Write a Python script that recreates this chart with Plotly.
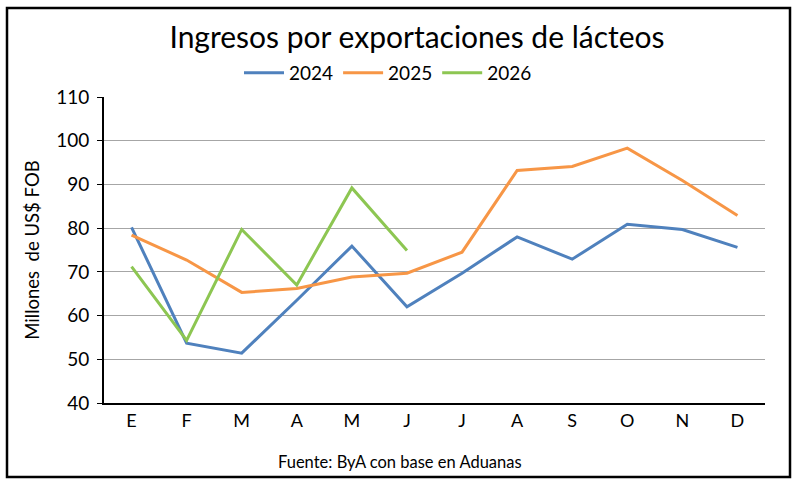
import plotly.graph_objects as go

months = ["E", "F", "M", "A", "M", "J", "J", "A", "S", "O", "N", "D"]
v2024 = [80.2, 53.7, 51.4, 63.5, 75.9, 62.0, 69.7, 78.0, 72.9, 80.9, 79.7, 75.6]
v2025 = [78.4, 72.7, 65.3, 66.2, 68.8, 69.7, 74.5, 93.2, 94.1, 98.3, 90.9, 82.9]
v2026 = [71.2, 54.3, 79.7, 67.0, 89.2, 74.9]
series = [("2024", v2024, "#4F81BD"), ("2025", v2025, "#F79646"), ("2026", v2026, "#8DC652")]

W, H = 797, 482
L, R, T, B = 104, 32, 97, 79
pw, ph = W - L - R, H - T - B

def px(x):
    return (x - L) / pw

def py(y):
    return (H - B - y) / ph

idx = list(range(len(months)))
fig = go.Figure()
for name, vals, col in series:
    fig.add_trace(go.Scatter(x=idx[:len(vals)], y=vals, mode="lines", name=name,
                             line=dict(color=col, width=3)))

font = "Lato, Carlito, Calibri, sans-serif"
fig.update_layout(
    width=W, height=H,
    margin=dict(l=L, r=R, t=T, b=B),
    paper_bgcolor="white", plot_bgcolor="white",
    font=dict(family=font, color="#000000", size=18),
    title=dict(text="Ingresos por exportaciones de lácteos", x=px(417), xanchor="center",
               xref="paper", y=1 - 37 / H, yanchor="middle",
               font=dict(size=30, family=font, color="#000")),
    legend=dict(orientation="h", x=px(388), xanchor="center", y=py(73), yanchor="middle",
                font=dict(size=19), itemwidth=40, tracegroupgap=0,
                bgcolor="rgba(0,0,0,0)"),
    showlegend=True,
    xaxis=dict(range=[-0.5, 11.5], tickmode="array", tickvals=idx, ticktext=months,
               showgrid=False, zeroline=False, showline=True, linecolor="#000",
               linewidth=2, ticks="", tickfont=dict(size=18), fixedrange=True),
    yaxis=dict(range=[40, 110], dtick=10, showgrid=True, gridcolor="#A6A6A6",
               gridwidth=1.3, zeroline=False, showline=True, linecolor="#000",
               linewidth=2, ticks="outside", ticklen=5, tickcolor="#000",
               tickfont=dict(size=19), ticklabelstandoff=4,
               title=dict(text="Millones  de US$ FOB", font=dict(size=18.5), standoff=12)),
    shapes=[dict(type="rect", xref="paper", yref="paper",
                 x0=px(7), x1=px(790), y0=py(477), y1=py(8),
                 line=dict(color="#000", width=2.5), fillcolor="rgba(0,0,0,0)",
                 layer="below")],
    annotations=[dict(text="Fuente: ByA con base en Aduanas", xref="paper", yref="paper",
                      x=px(400), y=py(462), xanchor="center", yanchor="middle",
                      showarrow=False, font=dict(size=16.5))],
)
fig.write_html("out.html")
